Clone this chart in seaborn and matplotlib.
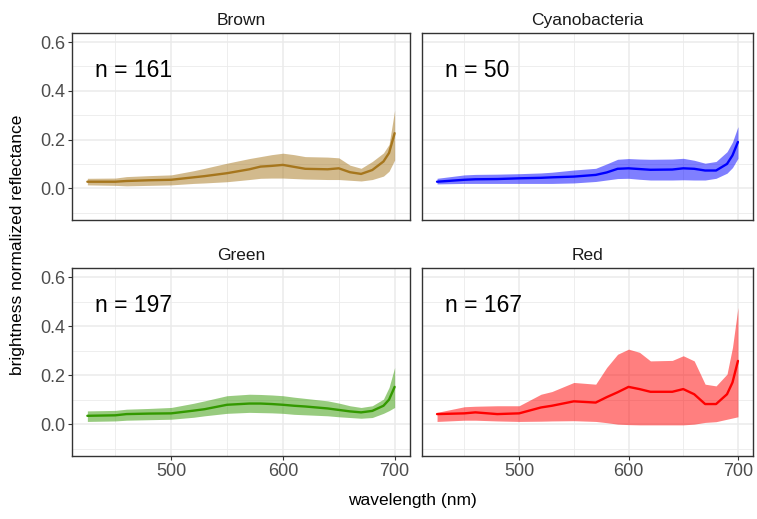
import numpy as np
import pandas as pd
import matplotlib
matplotlib.use("Agg")
import matplotlib.pyplot as plt
import seaborn as sns
from matplotlib.ticker import FixedLocator

# ---------------- data ----------------
wavelength = [425, 450, 460, 480, 500, 520, 530, 550, 570, 580, 590, 600,
              610, 620, 640, 650, 660, 670, 680, 690, 695, 700]
groups = ["Brown", "Cyanobacteria", "Green", "Red"]
counts = [161, 50, 197, 167]

brown_mean = [.027, .027, .030, .033, .035, .045, .050, .062, .078, .089, .092, .096,
              .088, .080, .078, .082, .066, .059, .075, .110, .145, .226]
brown_upper = [.041, .042, .048, .052, .055, .072, .082, .103, .122, .130, .138, .144,
               .138, .130, .128, .125, .095, .082, .110, .145, .180, .320]
brown_lower = [.014, .012, .010, .012, .014, .020, .022, .027, .036, .041, .042, .042,
               .040, .038, .036, .036, .033, .030, .036, .050, .070, .116]

cyano_mean = [.027, .035, .037, .038, .041, .043, .045, .048, .055, .065, .080, .082,
              .079, .076, .077, .082, .080, .073, .073, .100, .135, .190]
cyano_upper = [.041, .055, .057, .058, .060, .063, .066, .075, .082, .100, .119, .122,
               .120, .119, .120, .123, .115, .103, .110, .150, .190, .253]
cyano_lower = [.018, .020, .020, .020, .020, .020, .020, .022, .028, .034, .040, .041,
               .037, .034, .034, .035, .034, .034, .041, .062, .085, .123]

green_mean = [.034, .036, .041, .043, .044, .055, .061, .079, .084, .084, .082, .079,
              .075, .072, .064, .058, .052, .048, .054, .075, .100, .152]
green_upper = [.054, .056, .061, .064, .068, .085, .095, .116, .122, .121, .119, .116,
               .110, .105, .095, .086, .075, .068, .075, .102, .150, .231]
green_lower = [.011, .013, .016, .018, .020, .028, .034, .044, .048, .047, .046, .044,
               .040, .038, .034, .030, .027, .024, .027, .044, .055, .068]

red_mean = [.041, .044, .048, .041, .044, .068, .075, .093, .088, .110, .130, .152,
            .143, .132, .132, .143, .122, .082, .082, .122, .170, .258]
red_upper = [.048, .071, .073, .075, .075, .122, .133, .170, .163, .231, .285, .306,
             .293, .258, .260, .279, .258, .163, .156, .204, .313, .476]
red_lower = [.011, .016, .016, .013, .011, .012, .013, .014, .011, .006, .000, -.002,
             -.003, -.003, -.003, -.003, .000, .007, .010, .020, .025, .030]

line_colors = {"Brown": "#A6761D", "Cyanobacteria": "#0000FF",
               "Green": "#339900", "Red": "#FF0000"}

series = {
    "Brown": (brown_mean, brown_lower, brown_upper),
    "Cyanobacteria": (cyano_mean, cyano_lower, cyano_upper),
    "Green": (green_mean, green_lower, green_upper),
    "Red": (red_mean, red_lower, red_upper),
}

frames = []
for grp in groups:
    m, lo, up = series[grp]
    frames.append(pd.DataFrame({"group": grp, "wavelength": wavelength,
                                "mean": m, "lower": lo, "upper": up}))
df = pd.concat(frames, ignore_index=True)

# ---------------- plot ----------------
sns.set_theme(style="white")
plt.rcParams['font.family'] = ['Liberation Sans', 'DejaVu Sans']

g = sns.FacetGrid(df, col="group", col_wrap=2, col_order=groups,
                  sharex=True, sharey=True, height=2.5, aspect=1.5)


def draw(data, color=None, **kw):
    ax = plt.gca()
    grp = data["group"].iloc[0]
    c = line_colors[grp]
    ax.fill_between(data["wavelength"], data["lower"], data["upper"],
                    color=c, alpha=0.5, lw=0, zorder=2)
    sns.lineplot(data=data, x="wavelength", y="mean", color=c, ax=ax,
                 lw=1.7, zorder=3)


g.map_dataframe(draw)
g.set_axis_labels("", "")
g.set_titles("{col_name}")

fig = g.figure
fig.set_size_inches(7.57, 5.19)

W, H = 757.0, 519.0
boxes = {
    "Brown": (72, 410, 33, 220),
    "Cyanobacteria": (422, 753, 33, 220),
    "Green": (72, 410, 268, 456),
    "Red": (422, 753, 268, 456),
}

for ax, grp, n in zip(g.axes.flat, groups, counts):
    x0, x1, y0, y1 = boxes[grp]
    ax.set_position([x0 / W, 1 - y1 / H, (x1 - x0) / W, (y1 - y0) / H])
    ax.set_xlim(411.25, 713.75)
    ax.set_ylim(-0.13, 0.637)
    ax.xaxis.set_major_locator(FixedLocator([500, 600, 700]))
    ax.xaxis.set_minor_locator(FixedLocator([450, 550, 650]))
    ax.yaxis.set_major_locator(FixedLocator([0.0, 0.2, 0.4, 0.6]))
    ax.yaxis.set_minor_locator(FixedLocator([-0.1, 0.1, 0.3, 0.5]))
    ax.grid(which="major", color="#EBEBEB", lw=1.1)
    ax.grid(which="minor", color="#EBEBEB", lw=0.6)
    ax.set_axisbelow(True)
    for sp in ax.spines.values():
        sp.set_visible(True)
        sp.set_color("#333333")
        sp.set_linewidth(1.0)
    ax.tick_params(which="major", length=3, width=0.8, color="#333333",
                   labelsize=13, labelcolor="#4D4D4D", pad=2)
    ax.tick_params(which="minor", length=0)
    ax.set_yticklabels(["0.0", "0.2", "0.4", "0.6"])
    ax.set_xticklabels(["500", "600", "700"])
    is_top = grp in ("Brown", "Cyanobacteria")
    is_right = grp in ("Cyanobacteria", "Red")
    ax.tick_params(axis="x", bottom=not is_top, labelbottom=not is_top)
    ax.tick_params(axis="y", left=not is_right, labelleft=not is_right)
    ax.set_title(grp, fontsize=12.5, color="#1A1A1A", pad=6)
    ax.set_xlabel("")
    ax.set_ylabel("")
    ax.text(0.068, 0.80, f"n = {n}", transform=ax.transAxes, fontsize=16.5,
            ha="left", va="center", color="black")

fig.text(412.5 / W, 1 - 501 / H, "wavelength (nm)", ha="center", va="center",
         fontsize=12.5, color="black")
fig.text(18 / W, 1 - 244.5 / H, "brightness normalized reflectance",
         ha="center", va="center", rotation=90, fontsize=12.5, color="black")

fig.savefig("out.png", dpi=100)
